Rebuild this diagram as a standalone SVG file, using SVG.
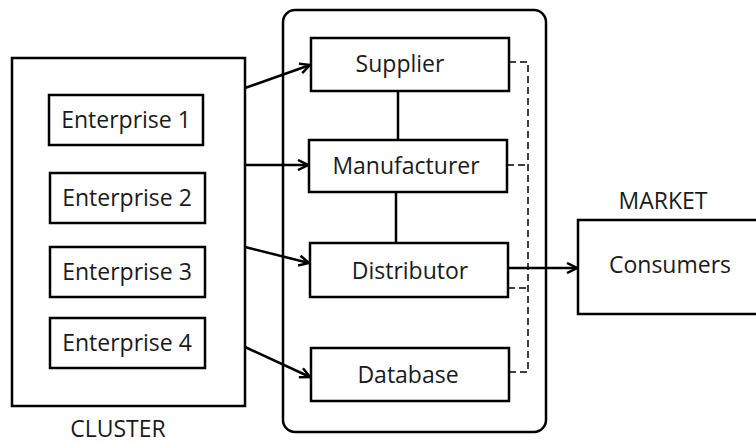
<svg xmlns="http://www.w3.org/2000/svg" width="756" height="443" viewBox="0 0 756 443">
<style>
.box{fill:#fff;stroke:#000;stroke-width:2.5}
.t{font-family:"Open Sans","Noto Sans",sans-serif;font-size:23px;fill:#1a1a1a;text-anchor:middle}
.ln{stroke:#000;stroke-width:2.5;fill:none}
.ds{stroke:#000;stroke-width:1.5;fill:none;stroke-dasharray:7 4}
</style>
<defs>
<marker id="ah" viewBox="0 0 12 12" refX="11" refY="6" markerWidth="12" markerHeight="12" markerUnits="userSpaceOnUse" orient="auto">
<path d="M1,1 L11,6 L1,11" fill="none" stroke="#000" stroke-width="2.5"/>
</marker>
</defs>
<rect width="756" height="443" fill="#fff"/>
<g id="cluster">
<rect class="box" x="12" y="58" width="233" height="348"/>
<text class="t" x="118" y="437">CLUSTER</text>
</g>
<g id="enterprise1"><rect class="box" x="49" y="95" width="154" height="50"/><text class="t" x="126" y="128">Enterprise 1</text></g>
<g id="enterprise2"><rect class="box" x="50" y="173" width="155" height="50"/><text class="t" x="127" y="206">Enterprise 2</text></g>
<g id="enterprise3"><rect class="box" x="50" y="247" width="155" height="50"/><text class="t" x="127" y="280">Enterprise 3</text></g>
<g id="enterprise4"><rect class="box" x="50" y="318" width="155" height="50"/><text class="t" x="127" y="351">Enterprise 4</text></g>
<g id="chain">
<rect class="box" x="283" y="10" width="263" height="422" rx="12"/>
</g>
<g id="connectors">
<line class="ln" x1="245" y1="88" x2="310" y2="65" marker-end="url(#ah)"/>
<line class="ln" x1="245" y1="165" x2="308" y2="165" marker-end="url(#ah)"/>
<line class="ln" x1="245" y1="247" x2="309" y2="263" marker-end="url(#ah)"/>
<line class="ln" x1="245" y1="347" x2="310" y2="377" marker-end="url(#ah)"/>
<line class="ln" x1="398" y1="91" x2="398" y2="140"/>
<line class="ln" x1="396" y1="192" x2="396" y2="243"/>
<line class="ln" x1="508" y1="268" x2="577" y2="268" marker-end="url(#ah)"/>
<path class="ds" d="M509,62 H528 V372 H509"/>
<path class="ds" d="M507,165 H528"/>
<path class="ds" d="M508,288 H528"/>
</g>
<g id="supplier"><rect class="box" x="311" y="38" width="198" height="53"/><text class="t" x="400" y="72">Supplier</text></g>
<g id="manufacturer"><rect class="box" x="309" y="140" width="198" height="52"/><text class="t" x="406" y="174">Manufacturer</text></g>
<g id="distributor"><rect class="box" x="310" y="243" width="198" height="54"/><text class="t" x="410" y="279">Distributor</text></g>
<g id="database"><rect class="box" x="311" y="348" width="198" height="53"/><text class="t" x="408" y="383">Database</text></g>
<g id="market">
<text class="t" x="663" y="209">MARKET</text>
<rect class="box" x="578" y="220" width="190" height="94"/>
<text class="t" x="670" y="273">Consumers</text>
</g>
</svg>
